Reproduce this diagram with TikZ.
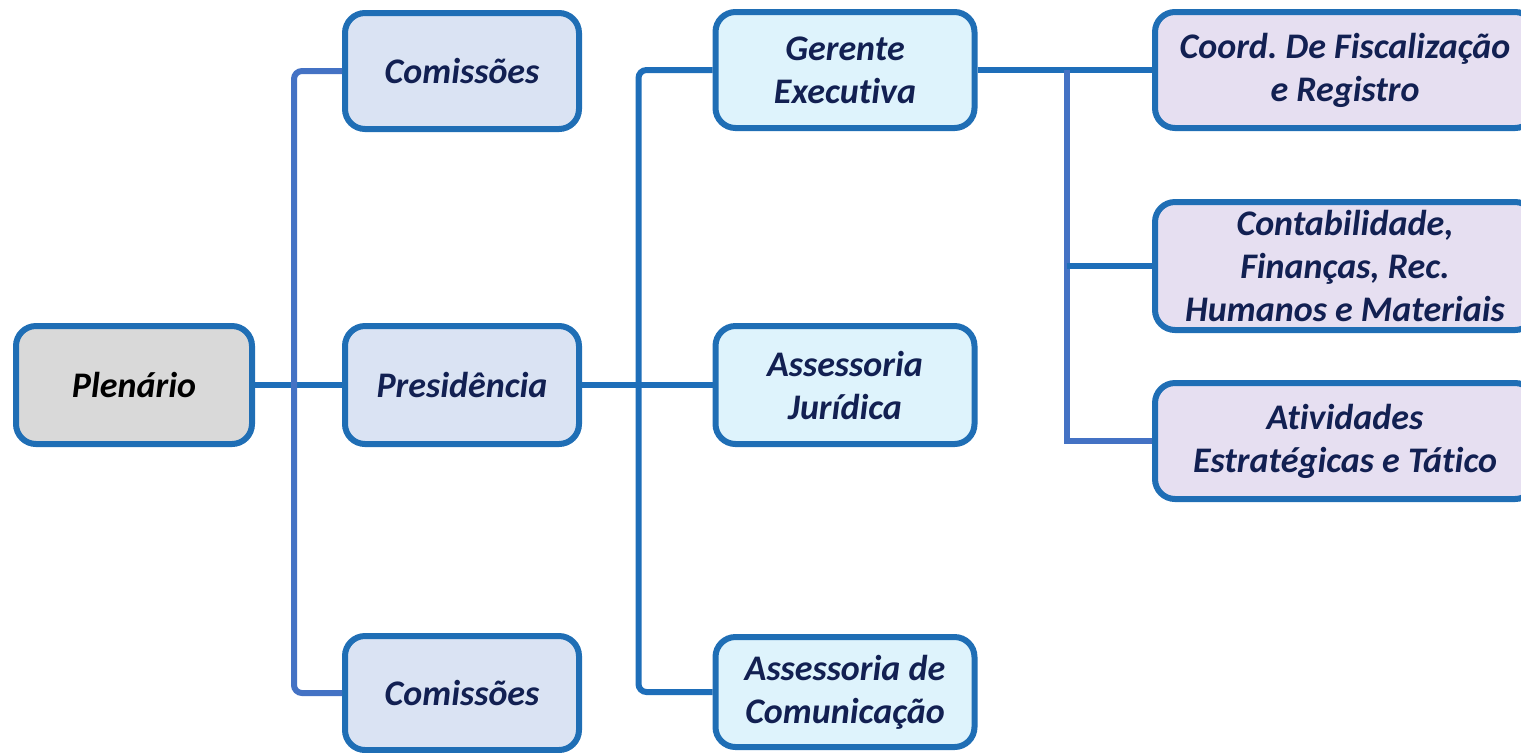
\documentclass[tikz,border=0pt]{standalone}
\usepackage{fontspec}
\setmainfont{Carlito}[Ligatures=NoCommon]
\frenchspacing
\usetikzlibrary{positioning}
\definecolor{boxline}{RGB}{31,110,181}
\definecolor{linkblue}{RGB}{68,114,196}
\definecolor{linkdark}{RGB}{30,110,185}
\definecolor{txtnavy}{RGB}{18,32,82}
\definecolor{fillgray}{RGB}{217,217,217}
\definecolor{fillblue}{RGB}{218,227,243}
\definecolor{fillcyan}{RGB}{222,243,252}
\definecolor{fillviolet}{RGB}{230,223,241}
\tikzset{%
  unit/.style={rectangle,rounded corners=10pt,draw=boxline,line width=3pt,
    fill=#1,text=txtnavy,align=center,inner sep=0pt,
    font=\fontsize{18}{21.5}\selectfont\bfseries\itshape},
  unit/.default=fillblue,
  link/.style={line width=3pt,draw=#1,rounded corners=4pt},
  link/.default=linkdark
}

\begin{document}
\begin{tikzpicture}[x=0.5pt,y=-0.5pt]
    \useasboundingbox (0,0) rectangle (1521,752);
    \clip (0,0) rectangle (1521,752);
    %
    \node[unit=fillgray,text=black,minimum width=118pt,minimum height=59pt]
      (plen) at (134,385) {Plenário};
    \node[unit,minimum width=117pt,minimum height=58pt] (com1) at (462,71) {Comissões};
    \node[unit,minimum width=117pt,minimum height=59pt] (pres) at (462,385) {Presidência};
    \node[unit,minimum width=117pt,minimum height=57pt] (com2) at (462,693) {Comissões};
    %
    \node[unit=fillcyan,minimum width=129.5pt,minimum height=58pt]
      (ger) at (845,70) {Gerente\\Executiva};
    \node[unit=fillcyan,minimum width=129.5pt,minimum height=59pt]
      (jur) at (845,385) {Assessoria\\Jurídica};
    \node[unit=fillcyan,minimum width=129.5pt,minimum height=55pt]
      (comu) at (845,692) {Assessoria de\\Comunicação};
    %
    \node[unit=fillviolet,minimum width=190pt,minimum height=58pt]
      (coord) at (1345,70) {Coord. De Fiscalização\\e Registro};
    \node[unit=fillviolet,minimum width=190pt,minimum height=64pt]
      (cont) at (1345,266) {Contabilidade,\\Finanças, Rec.\\Humanos e Materiais};
    \node[unit=fillviolet,minimum width=190pt,minimum height=58pt]
      (atv) at (1345,441) {Atividades\\Estratégicas e Tático};
    %
    \draw[link] (plen.east) -- (pres.west);
    \draw[link=linkblue] (com1.west) -- ++(-48,0) |- (com2.west);
    %
    \draw[link] (pres.east) -- (jur.west);
    \draw[link] (ger.west) -- ++(-74,0) |- (comu.west);
    %
    \draw[link] (ger.east) -- (coord.west);
    \draw[link=linkblue,rounded corners=0pt] (coord.west) ++(-85,0) |- (atv.west);
    \draw[link] (cont.west) -- ++(-85,0);
  \end{tikzpicture}
\end{document}
